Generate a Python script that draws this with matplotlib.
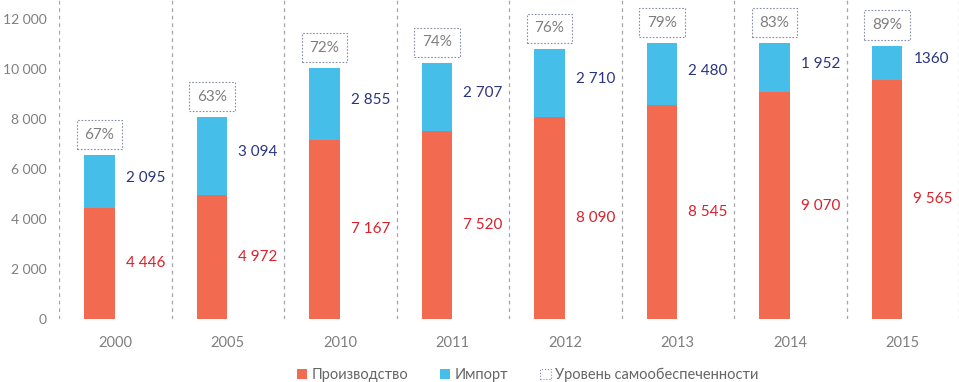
import matplotlib
matplotlib.use("Agg")
import matplotlib.pyplot as plt
from matplotlib.patches import Patch
import numpy as np

plt.rcParams['font.family'] = ['Lato', 'DejaVu Sans']

years = ['2000', '2005', '2010', '2011', '2012', '2013', '2014', '2015']
production = [4446, 4972, 7167, 7520, 8090, 8545, 9070, 9565]
imports = [2095, 3094, 2855, 2707, 2710, 2480, 1952, 1360]
import_labels = ['2 095', '3 094', '2 855', '2 707', '2 710', '2 480', '1 952', '1360']
self_sufficiency = [67, 63, 72, 74, 76, 79, 83, 89]

c_prod = '#F26A4F'
c_imp = '#45BFE9'
c_prod_txt = '#D9202B'
c_imp_txt = '#2B3480'
c_grey = '#7F7F7F'

fig = plt.figure(figsize=(9.59, 3.82), dpi=100)
ax = fig.add_axes([59/959, 63/382, 900/959, 319/382])

x = np.arange(len(years))
off = -0.14
w = 0.27
ax.bar(x + off, production, width=w, color=c_prod)
ax.bar(x + off, imports, width=w, bottom=production, color=c_imp)

def fmt(v):
    return f"{v:,}".replace(',', ' ')

for i in range(len(years)):
    ax.text(x[i] + off + w/2 + 0.1, production[i] / 2, fmt(production[i]),
            color=c_prod_txt, fontsize=11, va='center', ha='left')
    ax.text(x[i] + off + w/2 + 0.1, production[i] + imports[i] / 2 + 150, import_labels[i],
            color=c_imp_txt, fontsize=11, va='center', ha='left')
    ax.annotate(f"{self_sufficiency[i]}%", xy=(x[i] + off, production[i] + imports[i]),
                xytext=(0, 15), textcoords='offset points', ha='center', va='center',
                fontsize=11, color=c_grey,
                bbox=dict(boxstyle='square,pad=0.5', fc='white', ec='#8A8FA8', ls=(0, (1.5, 1.5)), lw=0.8))

for b in np.arange(-0.5, len(years) + 0.5, 1.0):
    ax.axvline(b, color='#A6A6A6', ls=(0, (3, 3)), lw=0.9)

ax.set_xlim(-0.5, len(years) - 0.5)
ax.set_ylim(0, 12760)
ax.set_yticks(np.arange(0, 12001, 2000))
ax.set_yticklabels([fmt(v) for v in range(0, 12001, 2000)])
ax.set_xticks(x)
ax.set_xticklabels(years)
ax.tick_params(axis='both', length=0, labelsize=10.5, colors=c_grey)
ax.tick_params(axis='y', labelsize=10, pad=9)
ax.tick_params(axis='x', pad=12)
for s in ax.spines.values():
    s.set_visible(False)

handles = [Patch(facecolor=c_prod, edgecolor='none', label='Производство'),
           Patch(facecolor=c_imp, edgecolor='none', label='Импорт'),
           Patch(facecolor='white', edgecolor='#8A8FA8', ls=':', lw=0.8, label='Уровень самообеспеченности')]
fig.legend(handles=handles, loc='lower center', bbox_to_anchor=(0.55, -0.035), ncol=3, frameon=False,
           fontsize=10.5, handlelength=0.7, handleheight=0.7, handletextpad=0.3, columnspacing=2.2,
           labelcolor='#666666')

fig.savefig('out.png', dpi=100)
